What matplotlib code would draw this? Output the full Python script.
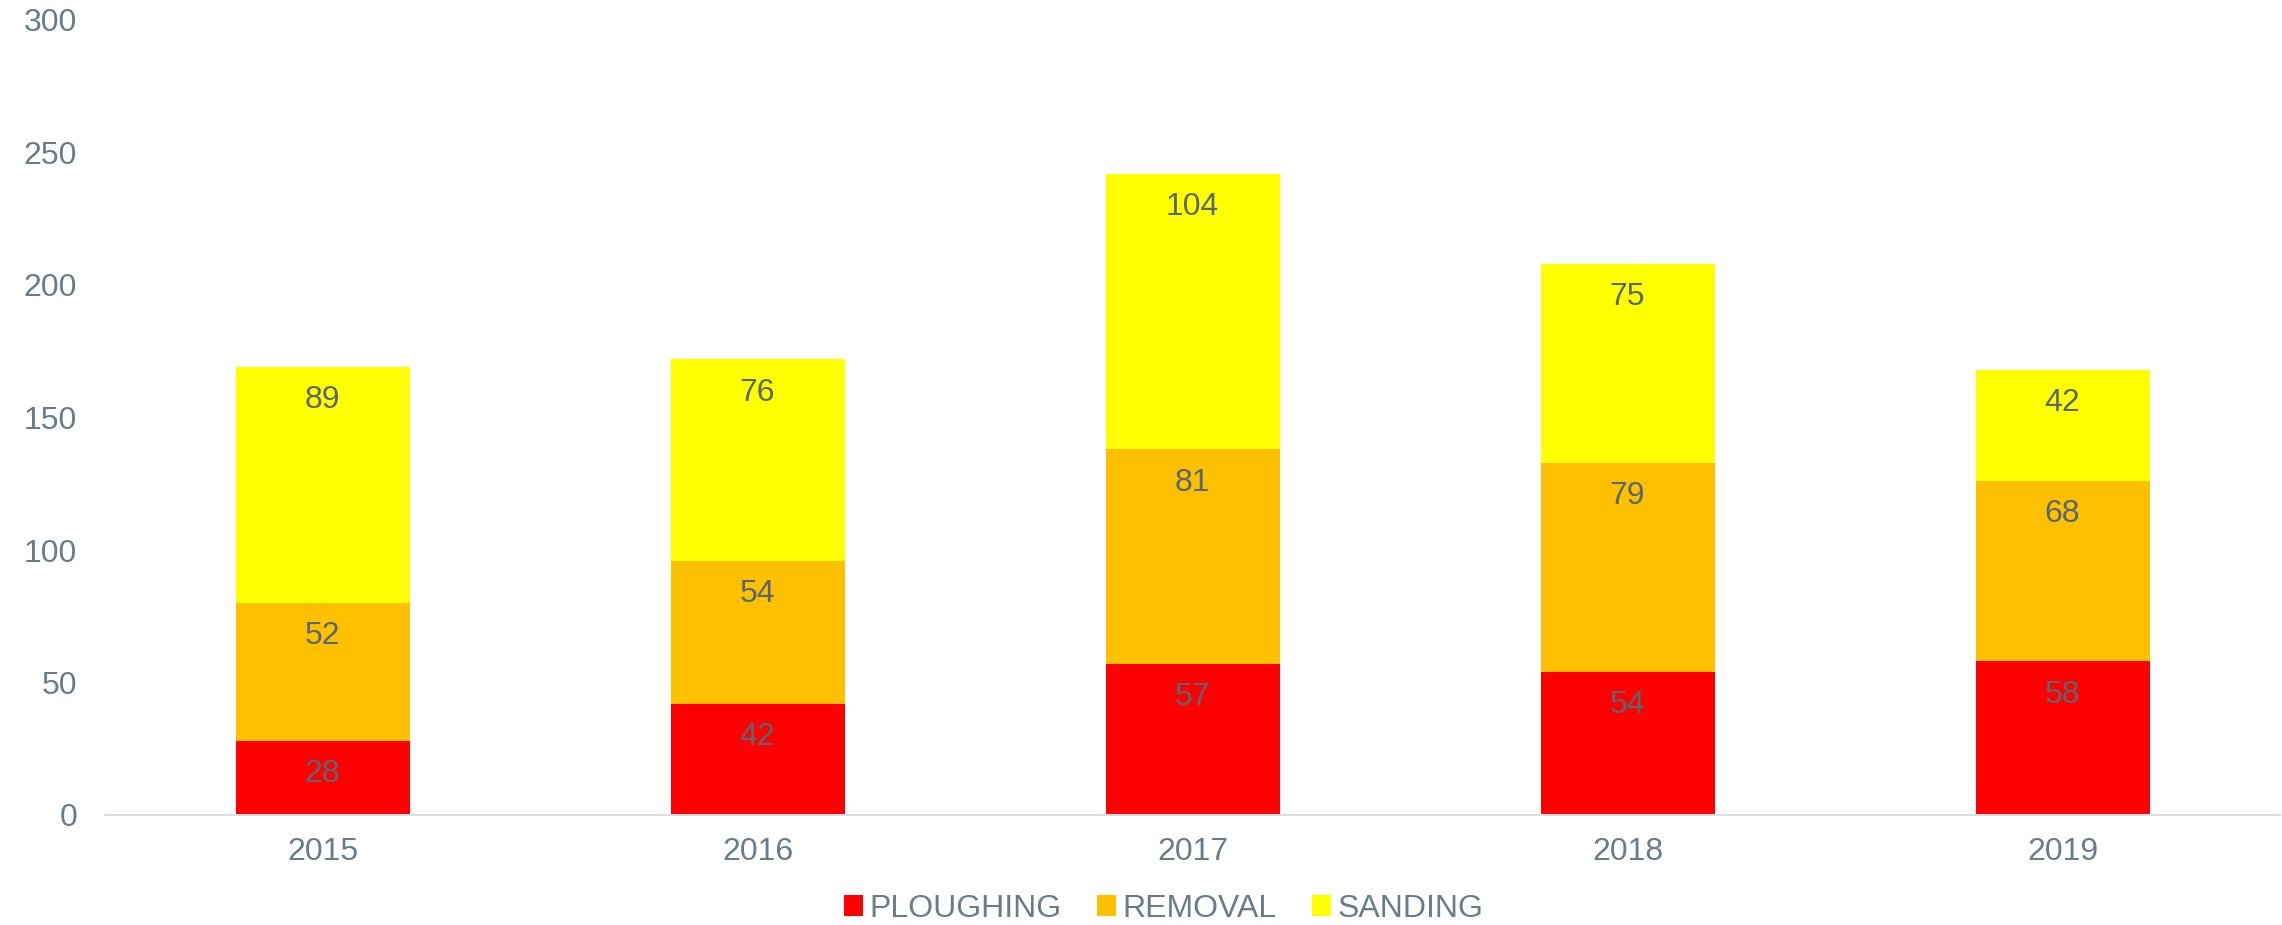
import numpy as np
import matplotlib.pyplot as plt

plt.rcParams['font.family'] = ['Liberation Sans', 'DejaVu Sans']

years = ['2015', '2016', '2017', '2018', '2019']
ploughing = [28, 42, 57, 54, 58]
removal = [52, 54, 81, 79, 68]
sanding = [89, 76, 104, 75, 42]

series = [('PLOUGHING', ploughing, '#FF0000'),
          ('REMOVAL', removal, '#FFC000'),
          ('SANDING', sanding, '#FFFF00')]

tick_col = '#687D87'
lab_col = '#5B6770'

fig = plt.figure(figsize=(22.82, 9.25), dpi=100)
ax = fig.add_axes([105/2282, 1 - 815/925, 2175/2282, (815 - 20)/925])

x = np.arange(len(years))
bottom = np.zeros(len(years))
for name, vals, col in series:
    bars = ax.bar(x, vals, 0.4, bottom=bottom, color=col, label=name)
    # value label just under the top of each segment
    for b, v, b0 in zip(bars, vals, bottom):
        ax.annotate(str(v), (b.get_x() + b.get_width() / 2, b0 + v),
                    xytext=(0, -24), textcoords='offset points',
                    ha='center', va='center', fontsize=23, color=lab_col)
    bottom += np.array(vals)

ax.set_xlim(-0.5, len(years) - 0.5)
ax.set_ylim(0, 300)
ax.set_yticks(range(0, 301, 50))
ax.set_xticks(x, years)
ax.tick_params(axis='both', length=0, labelsize=23, labelcolor=tick_col)
ax.tick_params(axis='x', pad=16)
ax.tick_params(axis='y', pad=20)
for s in ['top', 'right', 'left']:
    ax.spines[s].set_visible(False)
ax.spines['bottom'].set_color('#D9DEE0')
ax.spines['bottom'].set_linewidth(1.5)

fig.legend(loc='lower center', bbox_to_anchor=(0.51, -0.016), ncol=3,
           frameon=False, fontsize=23, labelcolor=tick_col,
           handlelength=0.6, handleheight=0.6, handletextpad=0.2,
           columnspacing=1.1, borderpad=0)

fig.savefig('out.png', dpi=100)
